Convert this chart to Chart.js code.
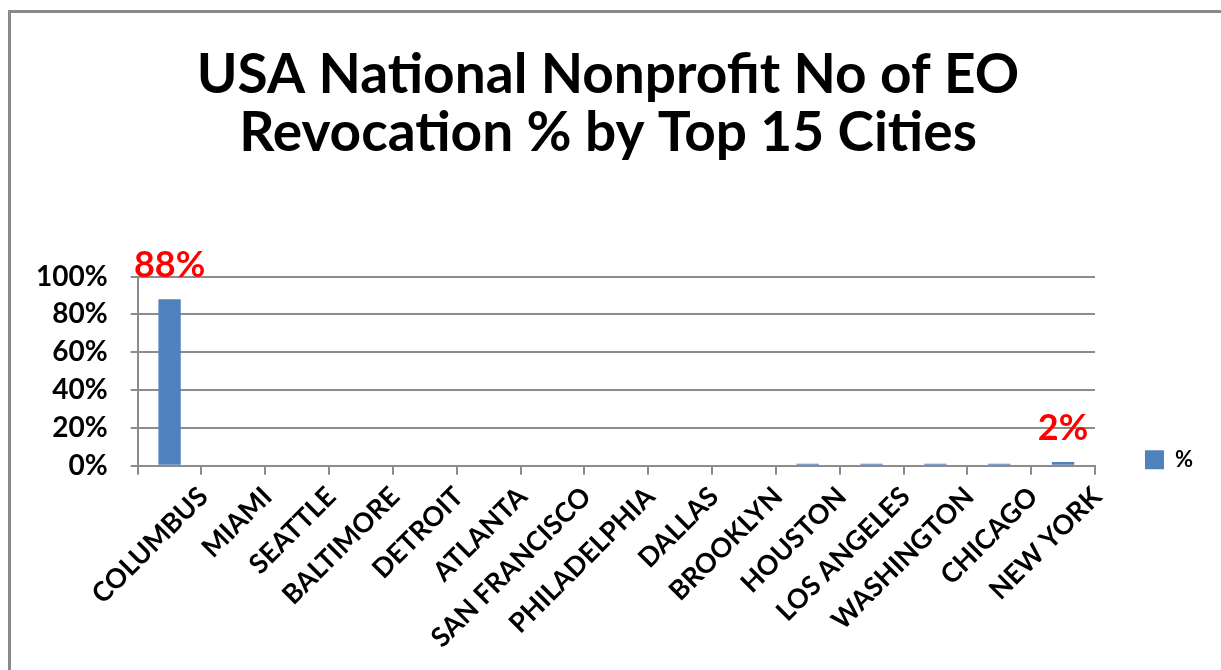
<!DOCTYPE html>
<html>
<head>
<meta charset="utf-8">
<script src="https://cdn.jsdelivr.net/npm/chart.js@4.4.0/dist/chart.umd.min.js"></script>
<style>
  html, body { margin: 0; padding: 0; background: #fff; overflow: hidden; }
  #frame { position: absolute; left: 8px; top: 10px; width: 1300px; height: 700px;
           border-left: 3px solid #8a8a8a; border-top: 3px solid #8a8a8a; }
  #wrap { position: absolute; left: 0; top: 0; width: 1221px; height: 670px; }
</style>
</head>
<body>
<div id="frame"></div>
<div id="wrap"><canvas id="myChart" width="1221" height="670"></canvas></div>
<script>
// Dados do gráfico
const cidades = ['COLUMBUS', 'MIAMI', 'SEATTLE', 'BALTIMORE', 'DETROIT', 'ATLANTA', 'SAN FRANCISCO',
    'PHILADELPHIA', 'DALLAS', 'BROOKLYN', 'HOUSTON', 'LOS ANGELES', 'WASHINGTON', 'CHICAGO', 'NEW YORK'];
const percentuais = [88, 0, 0, 0, 0, 0, 0, 0, 0, 0, 1, 1, 1, 1, 2];
const rotulosDestaque = [0, 14]; // barras com rótulo vermelho
const ticksY = [0, 20, 40, 60, 80, 100];

const FONTE = 'Lato, "Open Sans", sans-serif';

// rótulos vermelhos sobre as barras
const rotulosPlugin = {
    id: 'rotulos',
    afterDatasetsDraw(chart) {
        const ctx = chart.ctx;
        const meta = chart.getDatasetMeta(0);
        ctx.save();
        ctx.fillStyle = '#ff0000';
        ctx.font = 'bold 36px ' + FONTE;
        ctx.textAlign = 'center';
        ctx.textBaseline = 'middle';
        rotulosDestaque.forEach((i) => {
            const bar = meta.data[i];
            ctx.fillText(percentuais[i] + '%', bar.x, bar.y - 34);
        });
        ctx.restore();
    }
};

// legenda fica perto da base do gráfico, como no Excel
const legendaPlugin = {
    id: 'legendaBaixo',
    afterLayout(chart) {
        const lg = chart.legend;
        const h = lg.bottom - lg.top;
        lg.top = chart.chartArea.bottom - 67;
        lg.bottom = lg.top + h;
    }
};

const ctx = document.getElementById('myChart').getContext('2d');
const myChart = new Chart(ctx, {
    type: 'bar',
    data: {
        labels: cidades,
        datasets: [{
            label: '%',
            data: percentuais,
            backgroundColor: '#4f81bd',
            borderColor: '#4f81bd',
            borderWidth: 0,
            barPercentage: 0.7,
            categoryPercentage: 0.5
        }]
    },
    options: {
        responsive: false,
        animation: false,
        devicePixelRatio: 1,
        layout: { padding: { top: 46, left: 13, right: 18, bottom: 10 } },
        plugins: {
            title: {
                display: true,
                text: ['USA National Nonprofit No of EO', 'Revocation % by Top 15 Cities'],
                color: '#000',
                font: { family: FONTE, size: 55, weight: 'bold', lineHeight: 1.06 },
                padding: { top: 0, bottom: 114 }
            },
            legend: {
                position: 'right',
                align: 'start',
                labels: {
                    color: '#000',
                    font: { family: FONTE, size: 22, weight: 'bold' },
                    boxWidth: 19,
                    boxHeight: 19,
                    padding: 50
                }
            },
            tooltip: { enabled: false }
        },
        scales: {
            x: {
                grid: { display: true, drawOnChartArea: false, drawTicks: true, tickLength: 9, color: '#8c8c8c', lineWidth: 2, offset: true },
                border: { color: '#8c8c8c', width: 2 },
                ticks: {
                    color: '#000',
                    font: { family: FONTE, size: 27, weight: 'bold' },
                    minRotation: 45,
                    maxRotation: 45,
                    autoSkip: false,
                    labelOffset: 34,
                    padding: 6
                }
            },
            y: {
                min: 0,
                max: 100,
                afterBuildTicks: (axis) => { axis.ticks = ticksY.map((v) => ({ value: v })); },
                grid: { color: '#8c8c8c', lineWidth: 2, tickLength: 7 },
                border: { color: '#8c8c8c', width: 2 },
                ticks: {
                    color: '#000',
                    font: { family: FONTE, size: 28, weight: 'bold' },
                    padding: 23,
                    autoSkip: false,
                    callback: (v) => v + '%'
                }
            }
        }
    },
    plugins: [rotulosPlugin, legendaPlugin]
});
</script>
</body>
</html>
